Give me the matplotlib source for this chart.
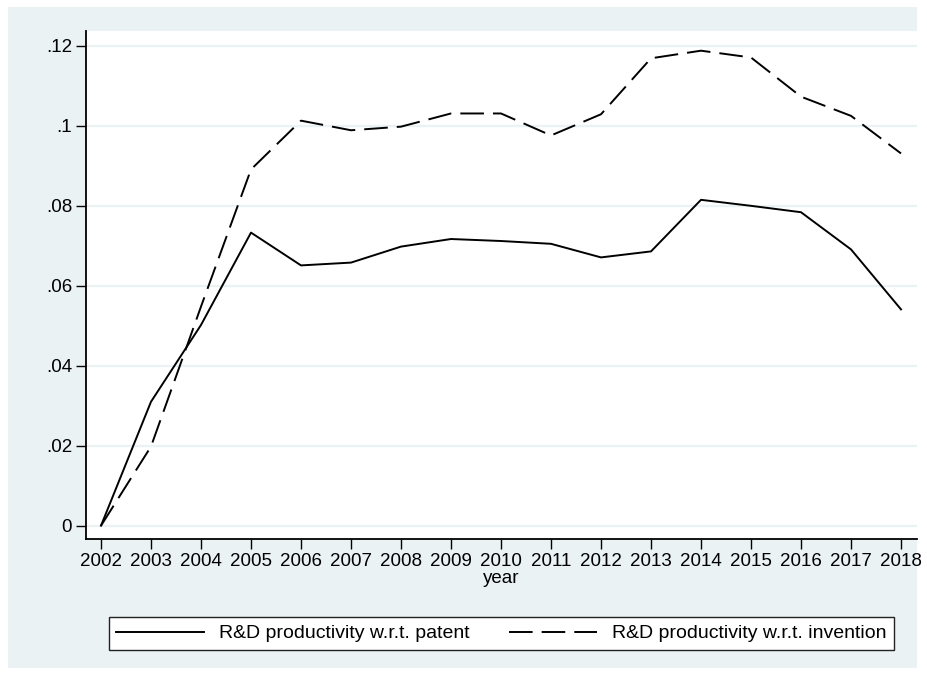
import matplotlib
matplotlib.use('Agg')
import matplotlib.pyplot as plt
import matplotlib.patches as mpatches
import numpy as np

years = list(range(2002, 2019))
patent = [0.0, 0.0310, 0.0502, 0.0733, 0.0651, 0.0658, 0.0698, 0.0717, 0.0712,
          0.0705, 0.0671, 0.0686, 0.0815, 0.0800, 0.0784, 0.0691, 0.0541]
invention = [0.0, 0.0198, 0.0548, 0.0891, 0.1013, 0.0989, 0.0998, 0.1031, 0.1031,
             0.0976, 0.1029, 0.1169, 0.1188, 0.1171, 0.1073, 0.1025, 0.0931]
yticks = [0, 0.02, 0.04, 0.06, 0.08, 0.10, 0.12]
ytick_labels = ['0', '.02', '.04', '.06', '.08', '.1', '.12']

BG = '#EAF2F3'
plt.rcParams['font.family'] = ['Liberation Sans', 'DejaVu Sans']
plt.rcParams['lines.scale_dashes'] = False

fig = plt.figure(figsize=(9.27, 6.77), dpi=100)
fig.patch.set_facecolor('white')
W, H = 927, 677

# outer graph region (Stata s2color style)
fig.patches.append(mpatches.Rectangle((8 / W, 1 - 668 / H), (917 - 8) / W, (668 - 7) / H,
                                      transform=fig.transFigure, facecolor=BG,
                                      edgecolor='none', zorder=-10))

ax = fig.add_axes([86 / W, 138 / H, (917 - 86) / W, (539 - 30.7) / H])
ax.set_zorder(1)
ax.set_facecolor('white')

for y in yticks:
    ax.axhline(y, color=BG, linewidth=1.6, zorder=1)

ax.plot(years, patent, color='black', linewidth=1.4, zorder=3,
        label='R&D productivity w.r.t. patent')
ax.plot(years, invention, color='black', linewidth=1.4, dashes=(17, 6.5), zorder=3,
        label='R&D productivity w.r.t. invention')

ax.set_xlim(2001.7, 2018.32)
ax.set_ylim(-0.00333, 0.1238)
ax.set_xticks(years)
ax.set_xticklabels([str(y) for y in years], fontsize=13.5)
ax.set_yticks(yticks)
ax.set_yticklabels(ytick_labels, fontsize=13.5)
ax.tick_params(axis='both', direction='out', length=7, width=1.0, color='black')
ax.tick_params(axis='y', pad=3)
ax.tick_params(axis='x', pad=3)
ax.set_xlabel('year', fontsize=13.5, labelpad=0)

for s in ['top', 'right']:
    ax.spines[s].set_visible(False)
for s in ['left', 'bottom']:
    ax.spines[s].set_linewidth(1.3)
    ax.spines[s].set_color('black')

handles, labels = ax.get_legend_handles_labels()
leg = fig.legend(handles, labels, loc='center', bbox_to_anchor=(501.5 / W, 1 - 633.5 / H),
                 ncol=2, frameon=True, fancybox=False,
                 handlelength=4.5, handletextpad=0.78, columnspacing=2.05,
                 borderpad=0.4, prop={'size': 14})
leg.set_zorder(5)
leg.get_frame().set_edgecolor('#222222')
leg.get_frame().set_linewidth(1.0)
leg.get_frame().set_facecolor('white')
leg.get_frame().set_alpha(1)

fig.savefig('out.png', dpi=100, facecolor=fig.get_facecolor())
